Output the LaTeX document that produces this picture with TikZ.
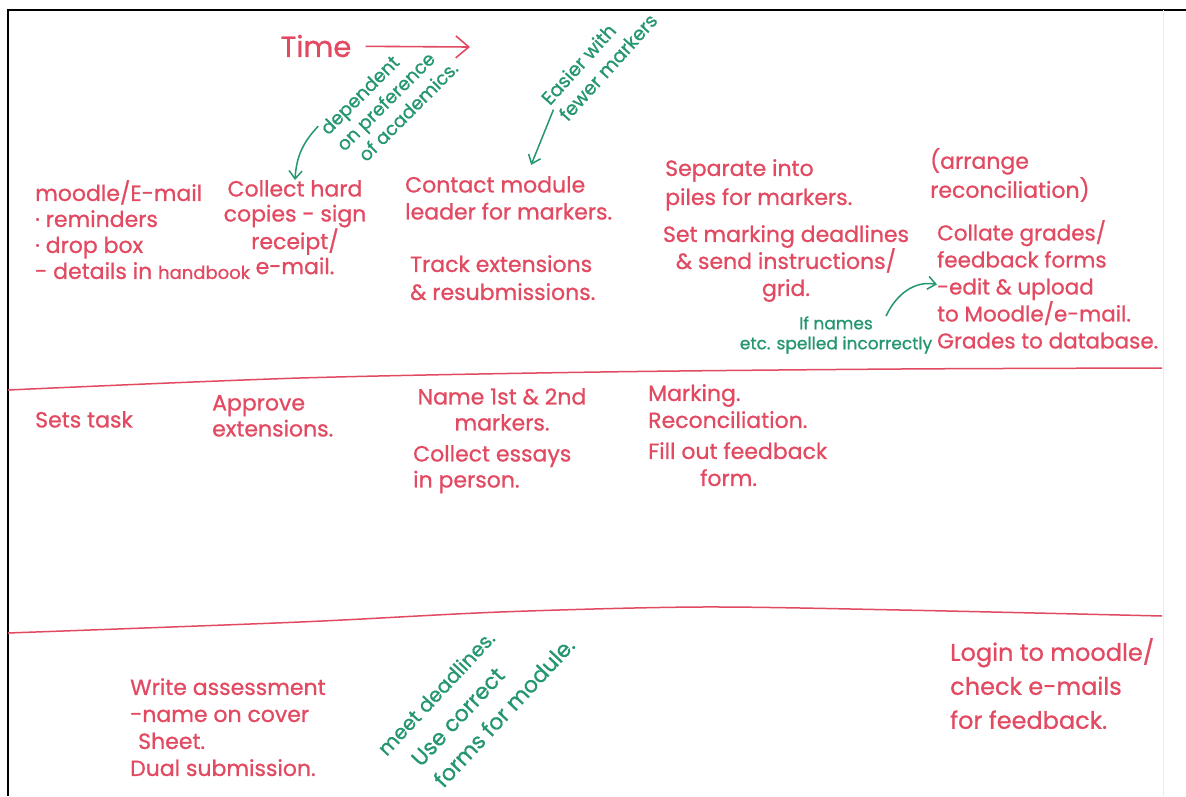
\documentclass[tikz,border=0pt]{standalone}
\usepackage{xcolor}
\usepackage{fontspec}
\setmainfont{Poppins}[UprightFeatures={FakeBold=0.8}]
\usetikzlibrary{arrows.meta, positioning}

\definecolor{inkred}{RGB}{226,74,98}
\definecolor{inkgreen}{RGB}{36,150,112}

\begin{document}
\begin{tikzpicture}[x=1pt,y=-1pt]
  \useasboundingbox (0,0) rectangle (1186,796);
  \fill[white] (0,0) rectangle (1186,796);
  % page edges
  \draw[line width=2pt] (8,796) -- (8,10) -- (1186,10);
  \draw[black!8] (1163,10) -- (1163,796);
  % lanes
  \draw[inkred, line width=1.5pt] plot[smooth] coordinates {(8,390) (300,378) (600,372) (900,369) (1162,368)};
  \draw[inkred, line width=1.5pt] plot[smooth] coordinates {(8,633) (300,622) (500,612) (700,607) (900,610) (1162,616)};

  \begin{scope}[every node/.style={text=inkred, inner sep=0pt, font=\fontsize{22}{27}\selectfont}]
    \node[font=\fontsize{29}{30}\selectfont] (time) at (316,46) {Time};
    \node[anchor=north west, align=left, font=\fontsize{22}{26}\selectfont] (moodle) at (35,180) {moodle/E-mail\\· reminders\\· drop box\\- details in {\fontsize{18}{26}\selectfont handbook}};
    \node[anchor=north, align=center, font=\fontsize{22}{25}\selectfont] (collect) at (295,180) {Collect hard\\copies - sign\\receipt/\\e-mail.};
    \node[anchor=north west, align=left] (contact) at (405,176) {Contact module\\leader for markers.};
    \node[anchor=north west, align=left, font=\fontsize{22}{28}\selectfont] (track) at (410,255) {Track extensions\\\& resubmissions.};
    \node[anchor=north west, align=left, font=\fontsize{22}{29}\selectfont] (separate) at (665,159) {Separate into\\piles for markers.};
    \node[anchor=north, align=center] (deadlines) at (786,225) {Set marking deadlines\\\& send instructions/\\grid.};
    \node[anchor=north west, align=left, font=\fontsize{22}{29}\selectfont] (arrange) at (930,148) {(arrange\\reconciliation)};
    \node[anchor=north west, align=left, font=\fontsize{21.5}{27}\selectfont] (collate) at (937,220) {Collate grades/\\feedback forms\\-edit \& upload\\to Moodle/e-mail.\\Grades to database.};
    \node[anchor=north west] (sets) at (35,411) {Sets task};
    \node[anchor=north west, align=left, font=\fontsize{22}{26}\selectfont] (approve) at (212,395) {Approve\\extensions.};
    \node[anchor=north, align=center, font=\fontsize{22}{26}\selectfont] (name) at (502,388) {Name 1st \& 2nd\\markers.};
    \node[anchor=north west, align=left, font=\fontsize{22}{26}\selectfont] (essays) at (413,445) {Collect essays\\in person.};
    \node[anchor=north west, align=left] (marking) at (648,384) {Marking.\\Reconciliation.\\[4pt]Fill out feedback\\\hspace*{52pt}form.};
    \node[anchor=north west, align=left] (write) at (130,678) {Write assessment\\-name on cover\\\hspace*{8pt}Sheet.\\Dual submission.};
    \node[anchor=north west, align=left, font=\fontsize{24}{34}\selectfont] (login) at (950,638) {Login to moodle/\\check e-mails\\for feedback.};
  \end{scope}
  \begin{scope}[every node/.style={text=inkgreen, inner sep=0pt, font=\fontsize{19}{24}\selectfont, align=left}]
    \node[rotate=45, font=\fontsize{18.5}{23}\selectfont] (academics) at (389,98) {dependent\\on preference\\\hspace*{8pt}of academics.};
    \node[rotate=48] (easier) at (599,59) {Easier with\\fewer markers};
    \node[align=center, font=\fontsize{17}{20}\selectfont] (names) at (836,335) {If names\\etc. spelled incorrectly};
    \node[rotate=47, font=\fontsize{20}{22}\selectfont] (meet) at (436,693) {meet deadlines.};
    \node[rotate=47, font=\fontsize{22}{31}\selectfont] (forms) at (493,702) {Use correct\\forms for module.};
  \end{scope}

  \coordinate (timeend) at (470,47);
  \draw[inkred, line width=1.6pt, shorten <=14pt, -{Straight Barb[length=13pt,width=22pt]}] (time) -- (timeend);
  \begin{scope}[every edge/.style={draw=inkgreen, line width=1.5pt, -{Straight Barb[length=8pt,width=13pt]}}]
    \path (academics.north west) edge[bend right=20] (collect.north);
    \path (easier.west) edge[shorten >=12pt] ([xshift=18pt]contact.north);
    %\path (names.north) edge (collate.west);
    \path ([xshift=50pt]names.north) edge[out=65, in=170] (collate.west);
  \end{scope}
\end{tikzpicture}
\end{document}
